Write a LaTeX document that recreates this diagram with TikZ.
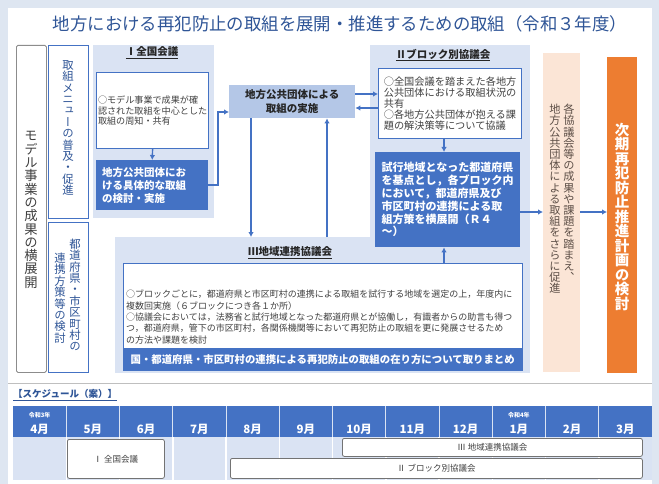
\documentclass[tikz,border=0pt]{standalone}
\usepackage{fontspec}
\setmainfont{Noto Sans CJK JP}
\newfontfamily\vfont{Noto Sans CJK JP}[RawFeature=+vert]
\usetikzlibrary{arrows.meta}
\definecolor{bgblue}{HTML}{DEE6F1}
\definecolor{pnl}{HTML}{DAE3F3}
\definecolor{mblue}{HTML}{4472C4}
\definecolor{dblue}{HTML}{2F5597}
\definecolor{jfill}{HTML}{B4C7E7}
\definecolor{peach}{HTML}{FBE5D6}
\definecolor{orng}{HTML}{ED7D31}
\definecolor{txt}{HTML}{404040}
\definecolor{brn}{HTML}{5E5048}
\lineskiplimit=-5pt\relax
\def\vtxt#1{\vtxtA#1\relax}
\def\vtxtA#1{#1\vtxtB}
\def\vtxtB#1{\ifx\relax#1\else\\#1\expandafter\vtxtB\fi}
\tikzset{
  panelbox/.style={fill=pnl, inner sep=0, anchor=north west},
  wbox/.style={fill=white, draw=mblue, line width=1.2pt, inner sep=0, anchor=north west, text=txt},
  bbox/.style={fill=mblue, inner sep=0, anchor=north west, text=white},
  vt/.style={align=center, inner sep=0, font=\vfont\fontsize{#1}{#1}\selectfont},
  hf/.style 2 args={font=\fontsize{#1}{#2}\selectfont},
  arr/.style={draw=mblue, line width=1.4pt, -{Latex[length=5pt,width=5.5pt]}},
  ttl/.style={font=\bfseries\fontsize{10.5}{10.5}\selectfont, text=black!85, inner sep=0},
  sbar/.style={fill=white, draw=black!55, line width=0.8pt, rounded corners=2pt, inner sep=0, anchor=north west, font=\fontsize{8.5}{8.5}\selectfont, text=txt},
}
\begin{document}
\begin{tikzpicture}[x=1pt,y=-1pt]
\useasboundingbox (0,0) rectangle (659,484);
\fill[bgblue] (0,0) rectangle (659,484);
\fill[white] (8,8) rectangle (652,484);

% title
\node[font=\fontsize{17.4}{17.4}\selectfont, text=dblue, inner sep=0] (title) at (340,24) {地方における再犯防止の取組を展開・推進するための取組（令和３年度）};

% left column
\node[draw=black!45, line width=0.8pt, rounded corners=1.5pt, minimum width=30, minimum height=327, inner sep=0, anchor=north west] (L0) at (16,45) {};
\node[vt=13.3, text=txt] (L0t) at (31,210) {\vtxt{モデル事業の成果の横展開}};
\node[draw=mblue, line width=0.8pt, minimum width=40, minimum height=173, inner sep=0, anchor=north west] (L1) at (48,45) {};
\node[vt=11.4, text=dblue] (L1t) at (68,128) {\vtxt{取組メニューの普及・促進}};
\node[draw=mblue, line width=0.8pt, minimum width=40, minimum height=150, inner sep=0, anchor=north west] (L2) at (48,222) {};
\node[vt=11.4, text=dblue] (L2a) at (75,295) {\vtxt{都道府県・市区町村の}};
\node[vt=11.4, text=dblue] (L2b) at (60,298) {\vtxt{連携方策等の検討}};

% panel I
\node[panelbox, minimum width=121, minimum height=173] (p1) at (93,45) {};
\node[ttl] (p1t) at (152,53) {\underline{Ⅰ全国会議}};
\node[wbox, minimum width=112, minimum height=76, align=left, hf={9.1}{10.5}] (iw) at (96,72) {○モデル事業で成果が確\\認された取組を中心とした\\取組の周知・共有};
\node[bbox, minimum width=112, minimum height=50, text width=100, align=left, font=\bfseries\fontsize{10.5}{13}\selectfont] (ib) at (96,160) {地方公共団体にお\\ける具体的な取組\\の検討・実施};

% jisshi
\node[fill=jfill, minimum width=126, minimum height=33, inner sep=0, anchor=north west, align=center, text=black!85, font=\bfseries\fontsize{10.5}{14}\selectfont] (jisshi) at (229,85) {地方公共団体による\\取組の実施};

% panel II and III
\node[panelbox, minimum width=160, minimum height=192] (p2) at (370,45) {};
\node[panelbox, minimum width=415, minimum height=136] (p3) at (115,237) {};
\node[ttl] (p2t) at (443,55) {\underline{Ⅱブロック別協議会}};
\node[wbox, minimum width=143, minimum height=70, align=left, hf={10.2}{10.8}] (IIw) at (378,68) {○全国会議を踏まえた各地方\\公共団体における取組状況の\\共有\\○各地方公共団体が抱える課\\題の解決策等について協議};
\node[bbox, minimum width=145, minimum height=95, align=left, font=\bfseries\fontsize{11}{12.8}\selectfont] (IIb) at (375,152) {試行地域となった都道府県\\を基点とし，各ブロック内\\において，都道府県及び\\市区町村の連携による取\\組方策を横展開（Ｒ４\\～）};

\node[ttl] (p3t) at (290,253) {\underline{Ⅲ地域連携協議会}};
\node[wbox, minimum width=399, minimum height=107] (IIIw) at (123,263) {};
\node[bbox, minimum width=399, minimum height=22, font=\bfseries\fontsize{10.4}{10.4}\selectfont] (bar3) at (123,348) {国・都道府県・市区町村の連携による再犯防止の取組の在り方について取りまとめ};
\node[anchor=north west, inner sep=0, align=left, text=txt, hf={9}{11.3}] (t3) at (126,290) {○ブロックごとに，都道府県と市区町村の連携による取組を試行する地域を選定の上，年度内に\\複数回実施（６ブロックにつき各１か所）\\○協議会においては，法務省と試行地域となった都道府県とが協働し，有識者からの助言も得つ\\つ，都道府県，管下の市区町村，各関係機関等において再犯防止の取組を更に発展させるため\\の方法や課題を検討};

% peach and orange
\node[fill=peach, minimum width=37, minimum height=319, inner sep=0, anchor=north west] (peach) at (543,53) {};
\node[vt=11.2, text=brn, anchor=north] (pa) at (569,104) {\vtxt{各協議会等の成果や課題を踏まえ、}};
\node[vt=11.2, text=brn, anchor=north] (pb) at (555,104) {\vtxt{地方公共団体による取組をさらに促進}};
\node[fill=orng, minimum width=30, minimum height=316, inner sep=0, anchor=north west] (orange) at (607,57) {};
\node[align=center, inner sep=0, text=white, font=\vfont\bfseries\fontsize{14.5}{14.5}\selectfont] (ot) at (622,217) {\vtxt{次期再犯防止推進計画の検討}};

% connectors
\coordinate (c1) at (218,112);
\coordinate (c2) at (0,94);
\coordinate (c3) at (0,108);
\coordinate (c4) at (251,0);
\coordinate (c5) at (327,0);
\coordinate (c6) at (444,0);
\coordinate (c7) at (0,212);
\draw[arr] (iw.south) -- (ib.north);
\draw[arr] (ib.east) -| (c1) -- (c1 -| jisshi.west);
\draw[arr] (c2 -| jisshi.east) -- (c2 -| IIw.west);
\draw[arr] (c3 -| IIw.west) -- (c3 -| jisshi.east);
\draw[arr] (c4 |- jisshi.south) -- (c4 |- p3.north);
\draw[arr] (c5 |- p3.north) -- (c5 |- jisshi.south);
\draw[arr] (c6 |- IIw.south) -- (c6 |- IIb.north);
\draw[arr] (c6 |- IIIw.north) -- (c6 |- IIb.south);
\draw[arr] (c7 -| IIb.east) -- (c7 -| peach.west);
\draw[arr] (c7 -| peach.east) -- (c7 -| orange.west);

% separator
\draw[black!25, line width=0.8pt] (8,383) -- (652,383);

% schedule
\node[anchor=west, inner sep=0, text=dblue, font=\bfseries\fontsize{9.5}{9.5}\selectfont] (sch) at (13,395) {\underline{【スケジュール（案）】}};
\fill[mblue] (13,406) rectangle (652,437);
\fill[pnl] (13,437) rectangle (652,480);
\foreach \i in {1,...,11} {
  \draw[white!80!mblue, line width=0.6pt] ({13+\i*53.25},406) -- ({13+\i*53.25},437);
  \draw[white, line width=1.5pt] ({13+\i*53.25},437) -- ({13+\i*53.25},480);
}
\foreach \m [count=\i from 0] in {4月,5月,6月,7月,8月,9月,10月,11月,12月,1月,2月,3月} {
  \node[inner sep=0, text=white, font=\bfseries\fontsize{11.5}{11.5}\selectfont] (m\i) at ({13+(\i+0.5)*53.25},429) {\m};
}
\node[inner sep=0, text=white, font=\bfseries\fontsize{6}{6}\selectfont] (y3) at (39.6,415) {令和3年};
\node[inner sep=0, text=white, font=\bfseries\fontsize{6}{6}\selectfont] (y4) at (518.9,415) {令和4年};
\node[sbar, minimum width=97, minimum height=39] (s1) at (67,439) {Ⅰ 全国会議};
\node[sbar, minimum width=300, minimum height=18] (s3) at (342,438) {Ⅲ 地域連携協議会};
\node[sbar, minimum width=412, minimum height=20] (s2) at (230,458) {Ⅱ ブロック別協議会};
\end{tikzpicture}
\end{document}
